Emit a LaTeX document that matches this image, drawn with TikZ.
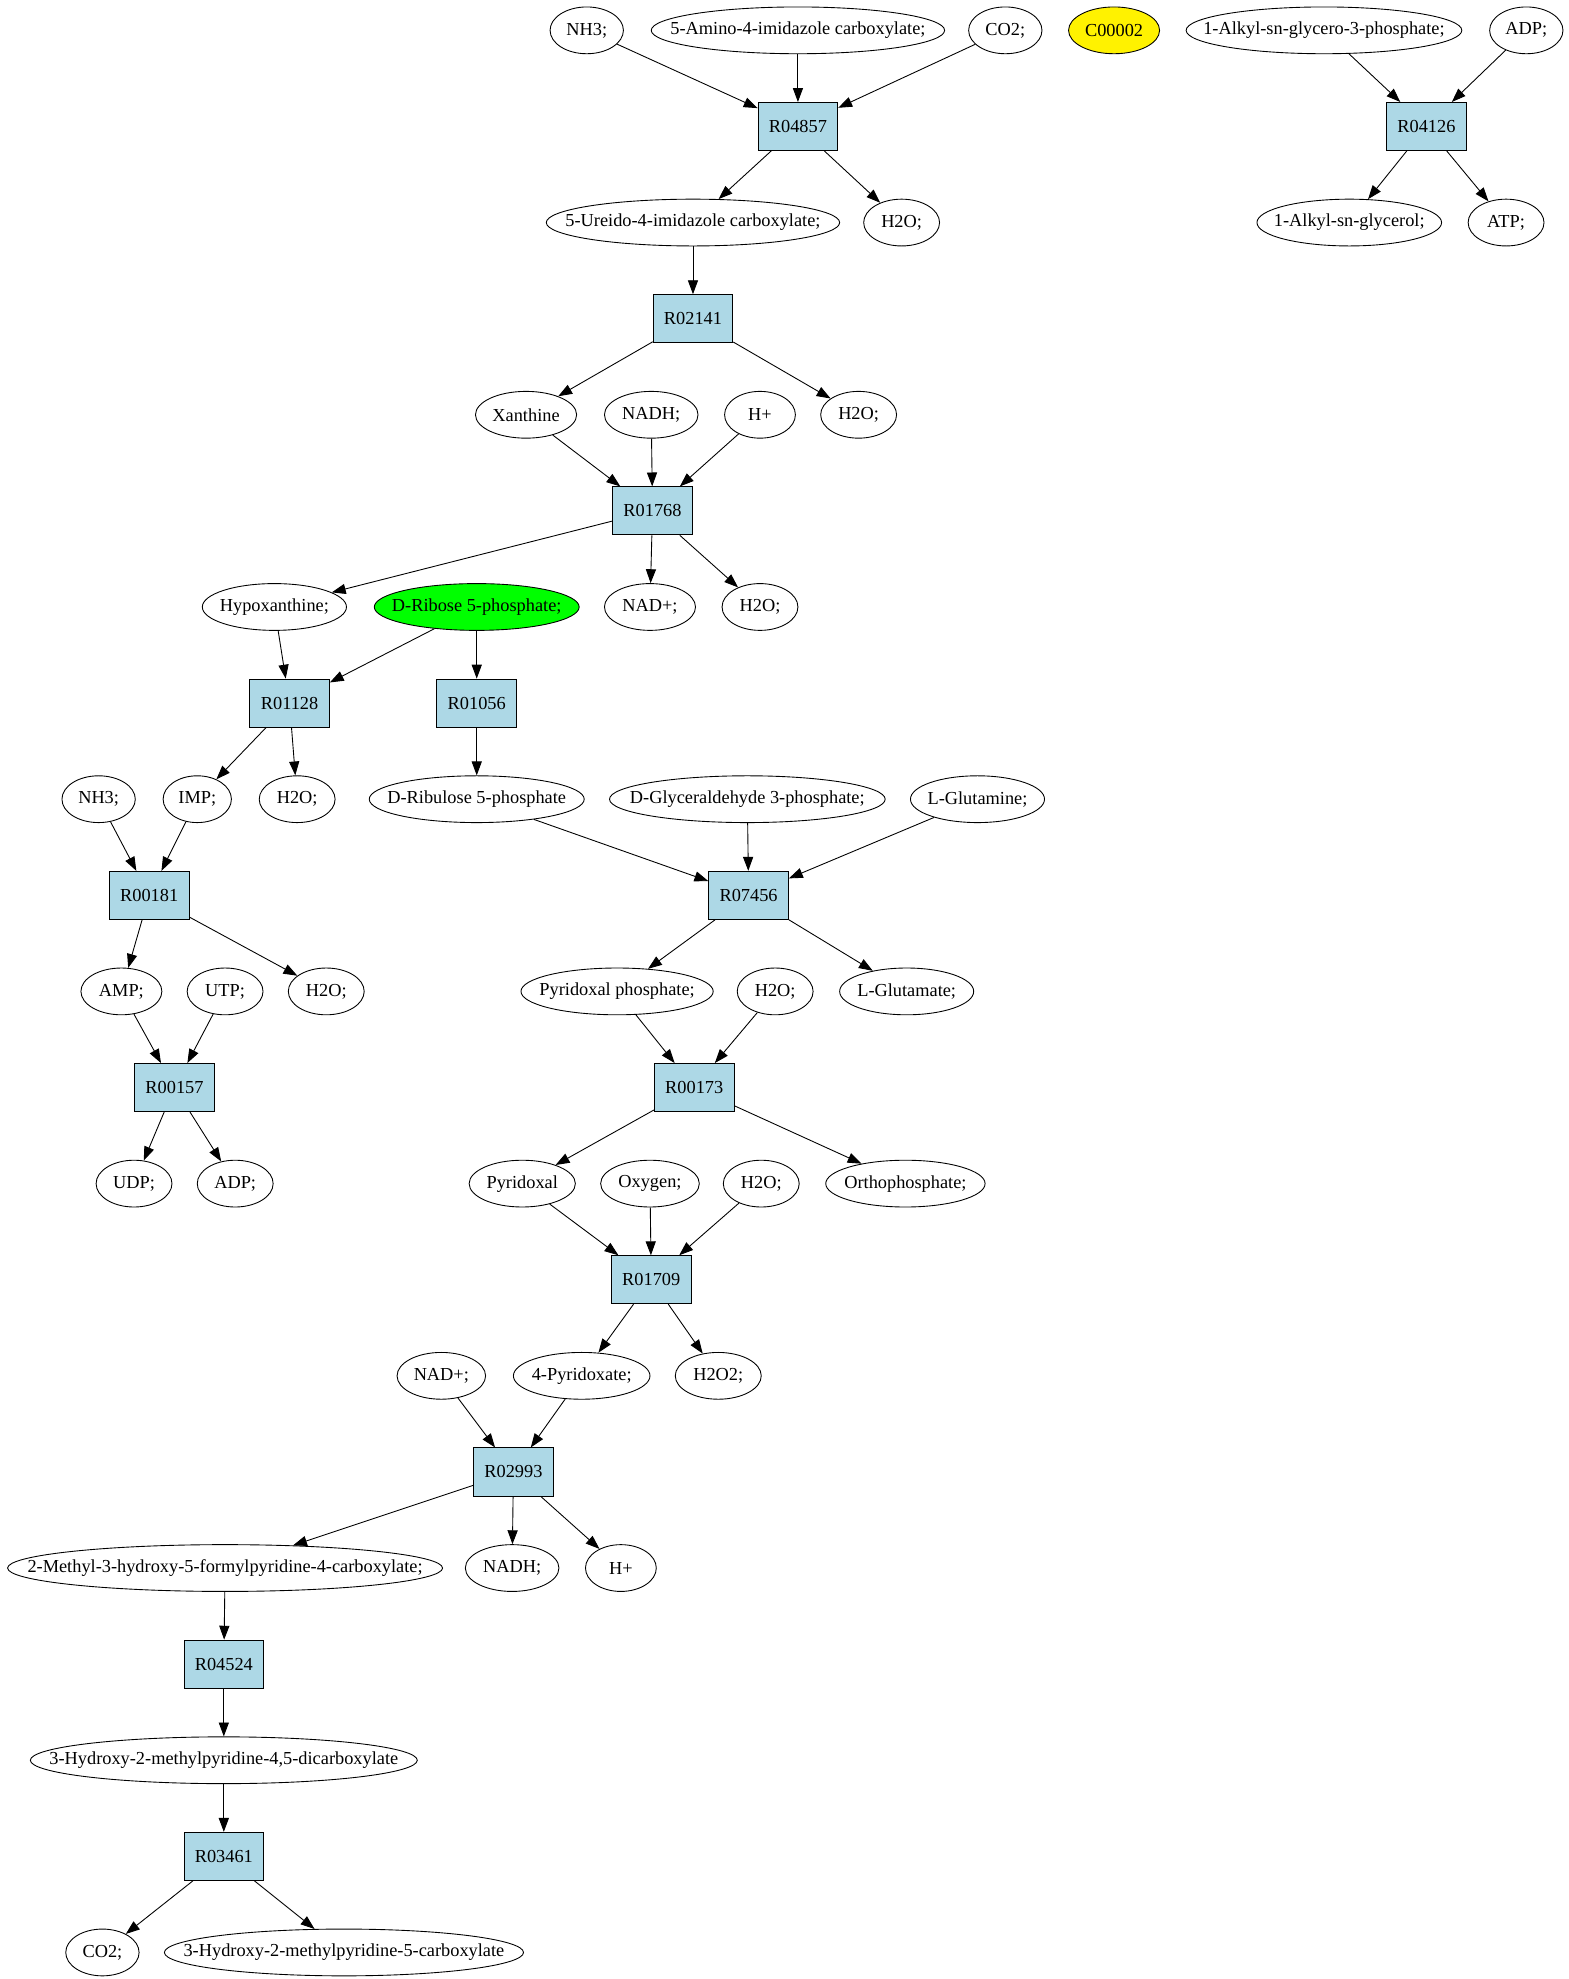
\documentclass[tikz,border=0pt]{standalone}
\usepackage{fontspec}
\setmainfont{Liberation Serif}
\usetikzlibrary{arrows.meta}
\usetikzlibrary{shapes.geometric}
\definecolor{rxnblue}{HTML}{ADD8E6}
\definecolor{srcgreen}{HTML}{00FF00}
\tikzset{
    rxn/.style={draw, fill=rxnblue, minimum width=63, minimum height=38, inner sep=0pt},
    met/.style={draw, ellipse, minimum width=#1, minimum height=37, inner sep=0pt,
        execute at begin node={\hbox to 0pt\bgroup\hss}, execute at end node={\hss\egroup}},
    met/.default=60,
    flow/.style={-{Triangle[length=11pt,width=8pt]}}
}

\begin{document}
\begin{tikzpicture}[x=1pt, y=-1pt, line width=0.7pt, font=\fontsize{14.5}{17}\selectfont]
    \useasboundingbox (0,0) rectangle (1240.7,1565);

    % top row
    \node[met=58] (nh3a) at (464,24) {NH3;};
    \node[met=232] (aic) at (631,24) {5-Amino-4-imidazole carboxylate;};
    \node[met=58] (co2a) at (795,24) {CO2;};
    \node[met=72, fill=yellow] (c2) at (881,24) {C00002};
    \node[met=218] (agp) at (1047,24) {1-Alkyl-sn-glycero-3-phosphate;};
    \node[met=58] (adpa) at (1207,24) {ADP;};
    \node[rxn] (r04857) at (631,100) {R04857};
    \node[rxn] (r04126) at (1128,100) {R04126};
    \node[met=232] (uic) at (548,176) {5-Ureido-4-imidazole carboxylate;};
    \node[met] (h2oa) at (713,176) {H2O;};
    \node[met=146] (ag) at (1067,176) {1-Alkyl-sn-glycerol;};
    \node[met] (atp) at (1191,176) {ATP;};
    \node[rxn] (r02141) at (548,252) {R02141};
    \node[met=80] (xan) at (416,328) {Xanthine};
    \node[met=74] (nadha) at (515,328) {NADH;};
    \node[met=56] (hpa) at (601,328) {H+};
    \node[met] (h2ob) at (679,328) {H2O;};
    \node[rxn] (r01768) at (516,404) {R01768};
    \node[met=114] (hyp) at (217,480) {Hypoxanthine;};
    \node[met=162, fill=srcgreen] (r5p) at (377,480) {D-Ribose 5-phosphate;};
    \node[met=72] (nada) at (514,480) {NAD+;};
    \node[met] (h2oc) at (601,480) {H2O;};
    \node[rxn] (r01128) at (229,556) {R01128};
    \node[rxn] (r01056) at (377,556) {R01056};

    % middle
    \node[met=58] (nh3b) at (78,632) {NH3;};
    \node[met=54] (imp) at (156,632) {IMP;};
    \node[met] (h2od) at (235,632) {H2O;};
    \node[met=170] (ru5p) at (377,632) {D-Ribulose 5-phosphate};
    \node[met=218] (gap) at (591,632) {D-Glyceraldehyde 3-phosphate;};
    \node[met=106] (gln) at (773,632) {L-Glutamine;};
    \node[rxn] (r00181) at (118,708) {R00181};
    \node[rxn] (r07456) at (592,708) {R07456};
    \node[met=64] (amp) at (96,784) {AMP;};
    \node[met] (utp) at (178,784) {UTP;};
    \node[met] (h2oe) at (258,784) {H2O;};
    \node[met=152] (plp) at (488,784) {Pyridoxal phosphate;};
    \node[met] (h2of) at (613,784) {H2O;};
    \node[met=106] (glu) at (717,784) {L-Glutamate;};
    \node[rxn] (r00157) at (138,860) {R00157};
    \node[rxn] (r00173) at (549,860) {R00173};
    \node[met] (udp) at (106,936) {UDP;};
    \node[met] (adpb) at (186,936) {ADP;};
    \node[met=84] (pyr) at (413,936) {Pyridoxal};
    \node[met=78] (oxy) at (514,936) {Oxygen;};
    \node[met] (h2og) at (602,936) {H2O;};
    \node[met=126] (pi) at (716,936) {Orthophosphate;};
    \node[rxn] (r01709) at (515,1012) {R01709};

    % bottom
    \node[met=70] (nadb) at (349,1088) {NAD+;};
    \node[met=108] (pxa) at (460,1088) {4-Pyridoxate;};
    \node[met=68] (h2o2) at (568,1088) {H2O2;};
    \node[rxn] (r02993) at (406,1164) {R02993};
    \node[met=344] (mhf) at (178,1240) {2-Methyl-3-hydroxy-5-formylpyridine-4-carboxylate;};
    \node[met=74] (nadhb) at (405,1240) {NADH;};
    \node[met=56] (hpb) at (491,1240) {H+};
    \node[rxn] (r04524) at (177,1316) {R04524};
    \node[met=306] (hmd) at (177,1392) {3-Hydroxy-2-methylpyridine-4,5-dicarboxylate};
    \node[rxn] (r03461) at (177,1468) {R03461};
    \node[met=58] (co2b) at (81,1544) {CO2;};
    \node[met=284] (hmc) at (272,1544) {3-Hydroxy-2-methylpyridine-5-carboxylate};

    \foreach \a/\b in {nh3a/r04857, aic/r04857, co2a/r04857, r04857/uic, r04857/h2oa,
        agp/r04126, adpa/r04126, r04126/ag, r04126/atp,
        uic/r02141, r02141/xan, r02141/h2ob,
        xan/r01768, nadha/r01768, hpa/r01768, r01768/hyp, r01768/nada, r01768/h2oc,
        hyp/r01128, r5p/r01128, r5p/r01056, r01128/imp, r01128/h2od,
        nh3b/r00181, imp/r00181, r00181/amp, r00181/h2oe,
        amp/r00157, utp/r00157, r00157/udp, r00157/adpb,
        r01056/ru5p, ru5p/r07456, gap/r07456, gln/r07456, r07456/plp, r07456/glu,
        plp/r00173, h2of/r00173, r00173/pyr, r00173/pi,
        pyr/r01709, oxy/r01709, h2og/r01709, r01709/pxa, r01709/h2o2,
        nadb/r02993, pxa/r02993, r02993/mhf, r02993/nadhb, r02993/hpb,
        mhf/r04524, r04524/hmd, hmd/r03461, r03461/co2b, r03461/hmc}
        \draw[flow] (\a) -- (\b);
\end{tikzpicture}
\end{document}
